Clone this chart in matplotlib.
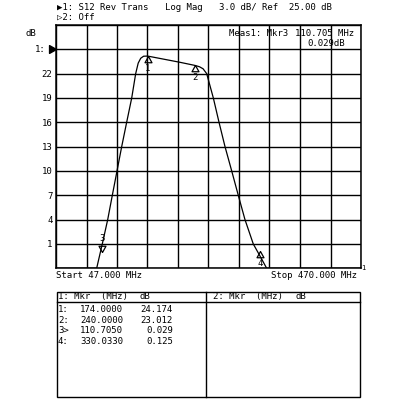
import matplotlib
matplotlib.use('Agg')
import matplotlib.pyplot as plt
from matplotlib.path import Path
from matplotlib.patches import Rectangle
from matplotlib.lines import Line2D
import numpy as np

plt.rcParams['font.family'] = ['DejaVu Sans Mono', 'DejaVu Sans']
plt.rcParams['font.size'] = 6.5

# analyzer settings
start_mhz, stop_mhz = 47.0, 470.0
ref_db, db_per_div = 25.0, 3.0

# trace (S12, log mag)
freq_mhz = [47.0, 103.4, 106.5, 111.2, 118.7, 125.1, 131.6, 138.1, 145.0,
            152.0, 157.5, 161.0, 164.5, 168.5, 174.0, 219.0, 240.0, 246.0,
            251.0, 256.0, 265.2, 273.1, 281.4, 290.7, 299.8, 309.1, 320.6,
            330.0, 339.2, 470.0]
gain_db = [-2.0, -2.0, -0.8, 1.0, 4.0, 7.0, 10.0, 13.0, 16.0,
           19.0, 22.0, 23.3, 23.9, 24.15, 24.17, 23.4, 23.01, 22.85,
           22.6, 22.0, 19.0, 16.0, 13.0, 10.0, 7.0, 4.0, 1.0,
           -0.5, -2.0, -2.0]

# marker table
mkr_names = ['1', '2', '3', '4']
mkr_freq = [174.0, 240.0, 110.705, 330.033]
mkr_db = [24.174, 23.012, 0.029, 0.125]
active_mkr = 2

W = 400.0


def fx(x):
    return x / W


def fy(y):
    return 1 - y / W


fig = plt.figure(figsize=(4, 4), dpi=100)
ax = fig.add_axes([fx(56), fy(268.3), fx(361) - fx(56), fy(25) - fy(268.3)])

bottom_db = ref_db - 9 * db_per_div
top_db = ref_db + db_per_div
ax.set_xlim(start_mhz, stop_mhz)
ax.set_ylim(bottom_db, top_db)
ax.set_xticks(np.linspace(start_mhz, stop_mhz, 11))
yt = np.arange(bottom_db, top_db + 0.1, db_per_div)
ax.set_yticks(yt)
ax.set_yticklabels([f"{v:g}" if bottom_db < v < ref_db else '' for v in yt])
ax.grid(True, color='black', lw=1.0)
ax.tick_params(length=0, labelbottom=False, pad=2.5, labelsize=6.5)
for s in ax.spines.values():
    s.set_linewidth(1.1)

ax.plot(freq_mhz, gain_db, color='black', lw=0.9)

# reference position arrow
ref_arrow = Path([(0, 0), (-1.6, 0.9), (-1.6, -0.9), (0, 0)])
ax.plot([start_mhz], [ref_db], marker=ref_arrow, ms=10, color='black', clip_on=False)
ax.annotate('1:', (start_mhz, ref_db), xytext=(-7.5, 0), textcoords='offset points',
            ha='right', va='center')
ax.annotate('dB', (start_mhz, top_db), xytext=(-14, -6), textcoords='offset points',
            ha='right', va='center')

# markers
tri_up = Path([(0, 0), (-1, -1.8), (1, -1.8), (0, 0)])
tri_dn = Path([(0, 0), (-1, 1.8), (1, 1.8), (0, 0)])
for i, name in enumerate(mkr_names):
    if i == active_mkr:
        m, dy = tri_dn, 9.5
    else:
        m, dy = tri_up, -9
    ax.plot([mkr_freq[i]], [mkr_db[i]], marker=m, ms=9, mfc='none', mec='black', mew=0.9)
    ax.annotate(name, (mkr_freq[i], mkr_db[i]), xytext=(0, dy), textcoords='offset points',
                ha='center', va='center')

# header lines
fig.text(fx(57), fy(7), '\u25b61: S12 Rev Trans', va='center')
fig.text(fx(165), fy(7), 'Log Mag', va='center')
fig.text(fx(219), fy(7), f'{db_per_div:.1f} dB/ Ref  {ref_db:.2f} dB', va='center')
fig.text(fx(57), fy(17.5), '\u25b72: Off', va='center')

fig.text(fx(229), fy(33), f'Meas1: Mkr{mkr_names[active_mkr]}', va='center')
fig.text(fx(354), fy(33), f'{mkr_freq[active_mkr]:.3f} MHz', va='center', ha='right')
fig.text(fx(345), fy(44), f'{mkr_db[active_mkr]:.3f}dB', va='center', ha='right')

fig.text(fx(56), fy(276), f'Start {start_mhz:.3f} MHz', va='center')
fig.text(fx(357), fy(276), f'Stop {stop_mhz:.3f} MHz', va='center', ha='right')
fig.text(fx(363), fy(268), '1', va='center', ha='center', fontsize=5)

# marker table box
fig.patches.append(Rectangle((fx(57), fy(397)), fx(360) - fx(57), fy(292) - fy(397),
                             transform=fig.transFigure, fill=False, lw=1.0, ec='black'))
fig.lines.append(Line2D([fx(206), fx(206)], [fy(292), fy(397)], transform=fig.transFigure,
                        color='black', lw=1.0))
fig.lines.append(Line2D([fx(57), fx(360)], [fy(302), fy(302)], transform=fig.transFigure,
                        color='black', lw=1.0))
fig.text(fx(58), fy(296.5), '1: Mkr  (MHz)', va='center')
fig.text(fx(140), fy(296.5), 'dB', va='center')
fig.text(fx(213), fy(296.5), '2: Mkr  (MHz)', va='center')
fig.text(fx(295), fy(296.5), 'dB', va='center')

for i, name in enumerate(mkr_names):
    y = 309.3 + 10.8 * i
    sep = '>' if i == active_mkr else ':'
    fig.text(fx(58), fy(y), name + sep, va='center')
    fig.text(fx(123), fy(y), f'{mkr_freq[i]:.4f}', va='center', ha='right')
    fig.text(fx(173), fy(y), f'{mkr_db[i]:.3f}', va='center', ha='right')

fig.savefig('out.png', dpi=100)
